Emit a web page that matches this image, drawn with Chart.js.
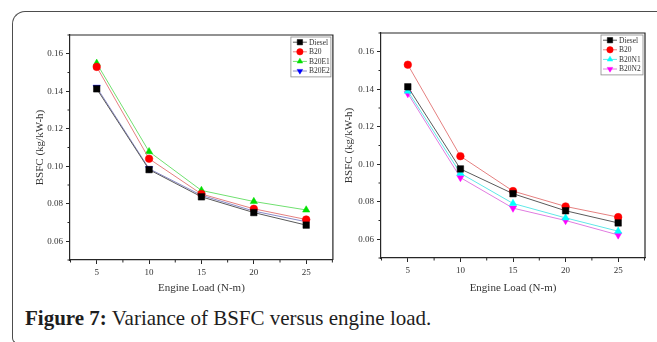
<!DOCTYPE html>
<html>
<head>
<meta charset="utf-8">
<script src="https://cdn.jsdelivr.net/npm/chart.js@4.4.0/dist/chart.umd.min.js"></script>
<style>
html, body { margin: 0; padding: 0; background: #fff; }
body { width: 657px; height: 342px; position: relative; overflow: hidden; font-family: "Liberation Serif", serif; }
.frame { position: absolute; left: 12px; top: 11px; width: 700px; height: 331px; border-top: 1.5px solid #4d4d4d; border-left: 1.5px solid #4d4d4d; border-top-left-radius: 13px; border-bottom-left-radius: 6px; border-bottom: 1.5px solid #4d4d4d; }
#leftChart { position: absolute; left: 0; top: 0; }
#rightChart { position: absolute; left: 336px; top: 0; }
.caption { position: absolute; left: 25px; top: 306px; font-size: 21px; line-height: 24px; color: #1e1e1e; white-space: nowrap; }
.caption b { font-weight: bold; }
</style>
</head>
<body>
<div class="frame"></div>
<canvas id="leftChart" width="338" height="300"></canvas>
<canvas id="rightChart" width="321" height="300"></canvas>
<div class="caption"><b>Figure 7:</b> Variance of BSFC versus engine load.</div>

<script>
// ── data ──
const loads = [5, 10, 15, 20, 25];

// left panel
const dieselA = [0.1413, 0.0982, 0.0837, 0.0753, 0.0686];
const b20A    = [0.1530, 0.1040, 0.0852, 0.0773, 0.0716];
const b20e1   = [0.1549, 0.1078, 0.0871, 0.0812, 0.0767];
const b20e2   = [0.1421, 0.0987, 0.0845, 0.0761, 0.0704];

// right panel
const dieselB = [0.1413, 0.0975, 0.0843, 0.0752, 0.0687];
const b20B    = [0.1531, 0.1043, 0.0857, 0.0775, 0.0718];
const b20n1   = [0.1390, 0.0952, 0.0791, 0.0714, 0.0643];
const b20n2   = [0.1377, 0.0929, 0.0766, 0.0700, 0.0623];

const xTicks = [5, 10, 15, 20, 25];
const xMinor = [2.5, 7.5, 12.5, 17.5, 22.5, 27.5];
const yTicks = [0.06, 0.08, 0.10, 0.12, 0.14, 0.16];
const yMinor = [0.05, 0.07, 0.09, 0.11, 0.13, 0.15, 0.17];

const AXIS = '#262626';
const SERIF = '"Liberation Serif", "Times New Roman", serif';

function series(label, data, marker, line, style, rot) {
    return {
        label,
        data: loads.map((x, i) => ({ x, y: data[i] })),
        borderColor: line,
        backgroundColor: marker,
        pointBackgroundColor: marker,
        pointBorderColor: marker,
        pointBorderWidth: 0.5,
        pointStyle: style,
        pointRotation: rot || 0,
        pointRadius: style === 'rect' ? 4.6 : (style === 'circle' ? 3.8 : 4.2),
        borderWidth: 1,
        tension: 0,
        showLine: true,
    };
}

// plot frame (top + right edges) and minor ticks
const framePlugin = {
    id: 'framePlugin',
    afterDraw(chart) {
        const { ctx, chartArea: a, scales } = chart;
        ctx.save();
        ctx.strokeStyle = AXIS;
        ctx.lineWidth = 1.2;
        ctx.beginPath();
        ctx.moveTo(a.left, a.top);
        ctx.lineTo(a.right, a.top);
        ctx.lineTo(a.right, a.bottom);
        ctx.stroke();

        ctx.lineWidth = 1;
        ctx.beginPath();
        xMinor.forEach(v => {
            const px = scales.x.getPixelForValue(v);
            if (px < a.left || px > a.right) return;
            ctx.moveTo(px, a.bottom);
            ctx.lineTo(px, a.bottom + 2.5);
        });
        yMinor.forEach(v => {
            const py = scales.y.getPixelForValue(v);
            if (py < a.top - 0.5 || py > a.bottom + 0.5) return;
            ctx.moveTo(a.left, py);
            ctx.lineTo(a.left - 2.5, py);
        });
        ctx.stroke();
        ctx.restore();
    }
};

// Origin-style boxed legend in the top-right corner
const legendPlugin = {
    id: 'legendPlugin',
    afterDraw(chart, args, opts) {
        const { ctx, chartArea: a } = chart;
        const sets = chart.data.datasets;
        const w = opts.width, rowH = 9.6;
        const x0 = a.right - w - 2, y0 = a.top + 2;
        const h = rowH * sets.length + 1.5;
        ctx.save();
        ctx.fillStyle = '#fff';
        ctx.fillRect(x0, y0, w, h);
        ctx.strokeStyle = '#8a8a8a';
        ctx.lineWidth = 0.8;
        ctx.strokeRect(x0, y0, w, h);
        ctx.font = '7.5px ' + SERIF;
        ctx.textBaseline = 'middle';
        sets.forEach((ds, i) => {
            const cy = y0 + 5.2 + i * rowH;
            ctx.strokeStyle = ds.borderColor;
            ctx.lineWidth = 1;
            ctx.beginPath();
            ctx.moveTo(x0 + 2, cy);
            ctx.lineTo(x0 + 16, cy);
            ctx.stroke();
            ctx.fillStyle = ds.pointBackgroundColor;
            ctx.strokeStyle = ds.pointBackgroundColor;
            ctx.lineWidth = 0.5;
            Chart.helpers.drawPoint(ctx, { pointStyle: ds.pointStyle, rotation: ds.pointRotation, radius: ds.pointStyle === 'rect' ? 3.8 : 3.2, borderWidth: 0.5 }, x0 + 9, cy);
            ctx.fillStyle = '#333';
            ctx.fillText(ds.label, x0 + 18, cy + 0.5);
        });
        ctx.restore();
    }
};

function makeChart(id, datasets, cfg) {
    return new Chart(document.getElementById(id), {
        type: 'scatter',
        data: { datasets },
        plugins: [framePlugin, legendPlugin],
        options: {
            responsive: false,
            animation: false,
            layout: { padding: { left: 0, top: cfg.top, right: cfg.right, bottom: 0 } },
            plugins: {
                legend: { display: false },
                tooltip: { enabled: false },
                legendPlugin: { width: cfg.legendW },
            },
            scales: {
                x: {
                    type: 'linear',
                    min: 2.45,
                    max: 27.55,
                    afterBuildTicks: s => { s.ticks = xTicks.map(v => ({ value: v })); },
                    afterFit: s => { s.height = cfg.xAxisH; },
                    grid: { display: true, drawOnChartArea: false, drawTicks: true, tickLength: 4, tickColor: AXIS, tickWidth: 1 },
                    border: { display: true, color: AXIS, width: 1.2 },
                    ticks: { color: '#333', font: { size: 9, family: SERIF }, padding: 3, maxRotation: 0, callback: v => String(v) },
                    title: { display: true, text: 'Engine Load (N-m)', color: '#333', font: { size: 11, family: SERIF }, padding: { top: 0, bottom: 5.4 } },
                },
                y: {
                    type: 'linear',
                    min: 0.05,
                    max: 0.17,
                    afterBuildTicks: s => { s.ticks = yTicks.map(v => ({ value: v })); },
                    afterFit: s => { s.width = cfg.yAxisW; },
                    grid: { display: true, drawOnChartArea: false, drawTicks: true, tickLength: 4, tickColor: AXIS, tickWidth: 1 },
                    border: { display: true, color: AXIS, width: 1.2 },
                    ticks: { color: '#333', font: { size: 9, family: SERIF }, padding: 3, callback: v => v.toFixed(2) },
                    title: { display: true, text: 'BSFC (kg/kW-h)', color: '#333', font: { size: 11, family: SERIF }, padding: { top: cfg.yTitlePad, bottom: 0 } },
                },
            },
        },
    });
}

makeChart('leftChart', [
    series('Diesel', dieselA, '#000000', '#5a5a5a', 'rect'),
    series('B20', b20A, '#ff0000', '#e58080', 'circle'),
    series('B20E1', b20e1, '#00e000', '#70e070', 'triangle'),
    series('B20E2', b20e2, '#0000ff', '#8a8ac8', 'triangle', 180),
], { top: 35, right: 3, xAxisH: 40, yAxisW: 70, yTitlePad: 33.4, legendW: 40 });

makeChart('rightChart', [
    series('Diesel', dieselB, '#000000', '#5a5a5a', 'rect'),
    series('B20', b20B, '#ff0000', '#e58080', 'circle'),
    series('B20N1', b20n1, '#00ffff', '#60e8e8', 'triangle'),
    series('B20N2', b20n2, '#ff00ff', '#e07ce0', 'triangle', 180),
], { top: 33, right: 12, xAxisH: 42, yAxisW: 45, yTitlePad: 6.4, legendW: 42 });
</script>
</body>
</html>
